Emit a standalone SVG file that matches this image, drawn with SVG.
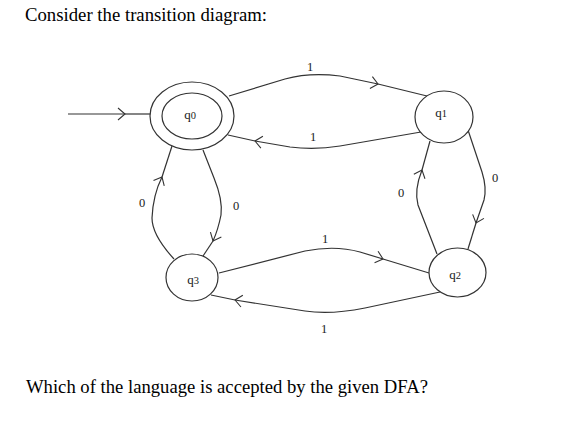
<svg xmlns="http://www.w3.org/2000/svg" width="588" height="422" viewBox="0 0 588 422">
<style>
.txt{font-family:"Liberation Serif","Times New Roman",serif;font-size:18.5px;fill:#000}
.lbl{font-family:"Liberation Serif","Times New Roman",serif;font-size:12.5px;fill:#1a1a1a;text-anchor:middle}
.st{font-family:"Liberation Serif","Times New Roman",serif;font-size:13px;fill:#1a1a1a;text-anchor:middle}
.st tspan{font-size:10.5px}
.node{fill:#fff;stroke:#333;stroke-width:1.2}
.edge{fill:none;stroke:#333;stroke-width:1.2}
.ah{fill:none;stroke:#333;stroke-width:1.1}
</style>
<defs>
<marker id="chev" viewBox="-8 -7 10 14" markerWidth="10" markerHeight="14" refX="0" refY="0" orient="auto" markerUnits="userSpaceOnUse">
<path class="ah" d="M -7 -6 L 0 0 L -7 6"/>
</marker>
</defs>
<rect width="588" height="422" fill="#fff"/>
<text class="txt" x="25" y="21" textLength="242" lengthAdjust="spacingAndGlyphs">Consider the transition diagram:</text>
<text class="txt" x="26" y="393" textLength="402" lengthAdjust="spacingAndGlyphs">Which of the language is accepted by the given DFA?</text>
<g id="connectors">
<g id="start">
<path class="edge" d="M68,114 L125,114" marker-end="url(#chev)"/>
<path class="edge" d="M125,114 L151,114"/>
</g>
<g id="e-q0-q1">
<path class="edge" d="M229,96 L285,79 Q310,72 340,76 L378,84" marker-end="url(#chev)"/>
<path class="edge" d="M378,84 L427,96"/>
<text class="lbl" x="310" y="71">1</text>
</g>
<g id="e-q1-q0">
<path class="edge" d="M421,132 L340,146 Q315,150 290,147 L255,141" marker-end="url(#chev)"/>
<path class="edge" d="M255,141 L228,135"/>
<text class="lbl" x="313" y="141">1</text>
</g>
<g id="e-q3-q0">
<path class="edge" d="M174,259 Q152,235 152,218 Q153,195 162,177" marker-end="url(#chev)"/>
<path class="edge" d="M162,177 L172,146"/>
<text class="lbl" x="142" y="207">0</text>
</g>
<g id="e-q0-q3">
<path class="edge" d="M203,150 L214,178 Q223,200 221,215 Q218,230 213,241" marker-end="url(#chev)"/>
<path class="edge" d="M213,241 L203,256"/>
<text class="lbl" x="236" y="210">0</text>
</g>
<g id="e-q3-q2">
<path class="edge" d="M219,273 L305,251 Q335,245 360,252 L383,259" marker-end="url(#chev)"/>
<path class="edge" d="M383,259 L429,273"/>
<text class="lbl" x="325" y="243">1</text>
</g>
<g id="e-q2-q3">
<path class="edge" d="M440,292 L365,308 Q330,315 305,311 L235,300" marker-end="url(#chev)"/>
<path class="edge" d="M235,300 L211,295"/>
<text class="lbl" x="324" y="333">1</text>
</g>
<g id="e-q2-q1">
<path class="edge" d="M437,254 L418,205 Q414,190 422,170" marker-end="url(#chev)"/>
<path class="edge" d="M422,170 L430,141"/>
<text class="lbl" x="401" y="197">0</text>
</g>
<g id="e-q1-q2">
<path class="edge" d="M468,130 L482,172 Q487,188 484,200 L476,223" marker-end="url(#chev)"/>
<path class="edge" d="M476,223 L468,249"/>
<text class="lbl" x="495" y="182">0</text>
</g>
</g>
<g id="q0">
<ellipse class="node" cx="192" cy="116" rx="42" ry="34"/>
<ellipse class="node" cx="192" cy="116" rx="30" ry="23"/>
<text class="st" x="190" y="119">q<tspan>0</tspan></text>
</g>
<g id="q1">
<ellipse class="node" cx="444" cy="117" rx="29" ry="26"/>
<text class="st" x="441" y="117">q<tspan>1</tspan></text>
</g>
<g id="q2">
<ellipse class="node" cx="457.5" cy="272.5" rx="28.5" ry="24.5"/>
<text class="st" x="455" y="279">q<tspan>2</tspan></text>
</g>
<g id="q3">
<ellipse class="node" cx="192" cy="277.5" rx="26" ry="23.5"/>
<text class="st" x="193" y="284">q<tspan>3</tspan></text>
</g>
</svg>
